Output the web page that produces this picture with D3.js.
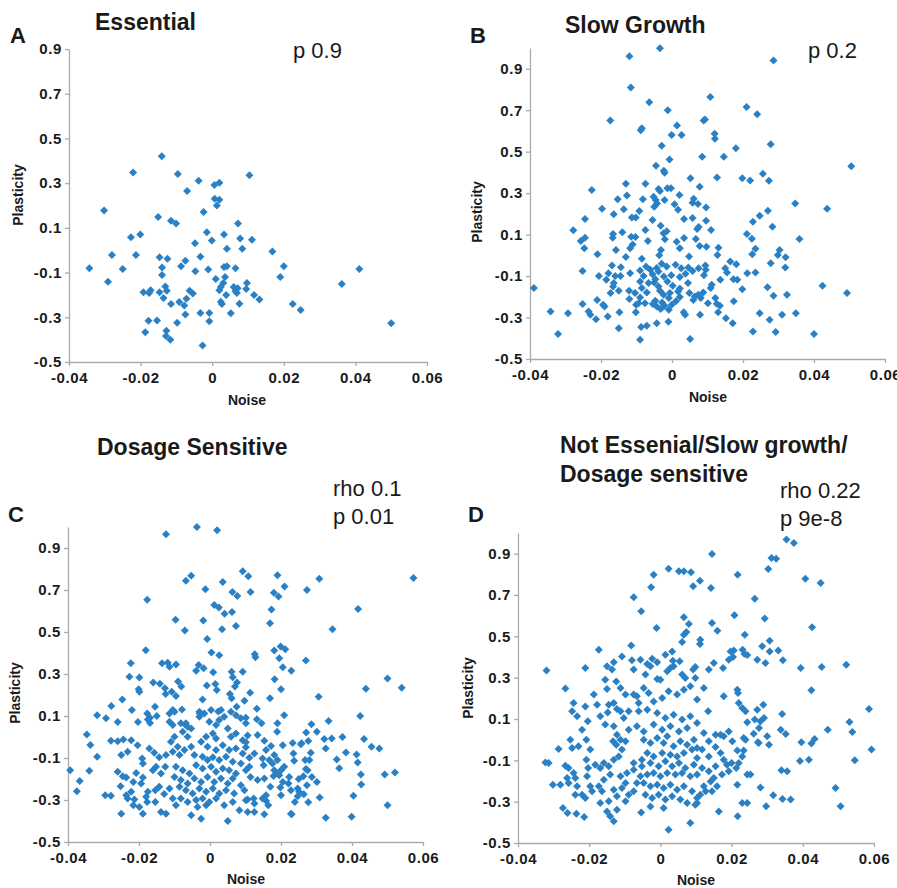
<!DOCTYPE html>
<html>
<head>
<meta charset="utf-8">
<script src="https://cdn.jsdelivr.net/npm/d3@7/dist/d3.min.js"></script>
<style>
body { margin: 0; background: #fff; }
text { font-family: "Liberation Sans", Arial, sans-serif; }
</style>
</head>
<body>
<svg id="chart" width="897" height="888"></svg>
<script>
/* ------------------------- Data ------------------------- */
var xTicks = [-0.04, -0.02, 0, 0.02, 0.04, 0.06];
var yTicks = [-0.5, -0.3, -0.1, 0.1, 0.3, 0.5, 0.7, 0.9];

/* [noise, plasticity] */
var essentialPoints = [
[-0.0141,0.42],[-0.0221,0.348],[-0.0096,0.341],[0.0104,0.335],[-0.0038,0.311],[0.0006,0.292],[0.002,0.302],[-0.007,0.265],
[0.0007,0.23],[0.002,0.226],[0.0013,0.2],[-0.0024,0.171],[-0.0302,0.178],[-0.0151,0.149],[-0.0115,0.132],[-0.0101,0.119],
[0.0072,0.12],[-0.0015,0.08],[-0.0227,0.058],[-0.0201,0.07],[0.0033,0.07],[0.0078,0.052],[0.0111,0.047],[-0.0001,0.044],
[-0.0048,0.031],[0.0041,0.007],[0.0084,0.007],[0.0168,-0.006],[-0.028,-0.021],[-0.0213,-0.021],[-0.0147,-0.032],[-0.0125,-0.038],
[-0.0033,-0.029],[-0.0075,-0.047],[-0.0343,-0.081],[-0.025,-0.084],[-0.014,-0.077],[-0.0087,-0.072],[-0.0047,-0.094],[-0.0011,-0.086],
[0.0033,-0.075],[0.0041,-0.072],[0.0065,-0.081],[0.02,-0.072],[0.0411,-0.084],[-0.014,-0.111],[0.001,-0.129],[0.0036,-0.12],
[0.019,-0.12],[-0.0291,-0.141],[0.0097,-0.147],[0.0031,-0.147],[-0.0131,-0.162],[0.0024,-0.165],[0.006,-0.165],[0.0071,-0.17],
[0.0362,-0.151],[-0.0127,-0.181],[-0.0172,-0.179],[-0.0192,-0.188],[-0.0176,-0.191],[-0.0147,-0.188],[-0.0063,-0.181],[-0.0054,-0.194],
[0.002,-0.179],[0.0065,-0.184],[0.0069,-0.191],[0.0095,-0.174],[0.0039,-0.2],[0.0117,-0.2],[0.0132,-0.22],[-0.0072,-0.217],
[-0.0136,-0.214],[-0.0092,-0.232],[-0.0115,-0.241],[-0.0078,-0.247],[0.0024,-0.23],[0.0027,-0.241],[0.0076,-0.239],[0.0225,-0.241],
[0.0247,-0.267],[-0.0075,-0.288],[-0.0033,-0.281],[-0.0008,-0.281],[0.0052,-0.282],[-0.0178,-0.315],[-0.0154,-0.314],[-0.0098,-0.324],
[-0.0008,-0.318],[0.05,-0.327],[-0.0187,-0.367],[-0.0128,-0.36],[-0.0129,-0.384],[-0.0117,-0.4],[-0.0027,-0.426]
];

var slowGrowthPoints = [
[-0.0034,0.999],[-0.012,0.96],[0.0286,0.94],[-0.0116,0.81],[-0.0064,0.738],[-0.0012,0.70],[0.0108,0.764],[0.021,0.715],
[0.024,0.68],[-0.0174,0.65],[0.0089,0.65],[0.0093,0.655],[-0.0085,0.613],[-0.0088,0.603],[0.0014,0.626],[0.0027,0.58],
[-0.0001,0.58],[0.012,0.587],[0.0121,0.562],[-0.0029,0.528],[0.0278,0.536],[0.018,0.517],[0.0146,0.475],[0.0085,0.475],
[-0.0007,0.462],[-0.0045,0.432],[0.0505,0.43],[-0.0023,0.408],[-0.0021,0.398],[0.0052,0.372],[0.0127,0.376],[0.0198,0.372],
[0.022,0.361],[0.0256,0.393],[0.0273,0.36],[-0.013,0.345],[-0.0075,0.345],[0.0078,0.331],[-0.0013,0.324],[-0.0003,0.323],
[-0.0038,0.32],[-0.0034,0.31],[-0.0226,0.315],[-0.0127,0.289],[0.0021,0.291],[-0.0052,0.283],[-0.0046,0.267],[-0.0021,0.267],
[-0.0153,0.271],[-0.0082,0.27],[0.0061,0.273],[0.0058,0.254],[0.0007,0.246],[0.0073,0.247],[-0.0042,0.25],[0.0347,0.25],
[-0.0197,0.225],[-0.0136,0.222],[-0.005,0.234],[0.0017,0.22],[0.0096,0.231],[0.027,0.215],[0.0437,0.225],[-0.0092,0.214],
[-0.0164,0.198],[0.0247,0.191],[-0.0245,0.175],[-0.0113,0.183],[-0.0102,0.182],[-0.0055,0.17],[0.0034,0.175],[0.0058,0.18],
[0.0228,0.162],[0.0096,0.167],[-0.0032,0.143],[0.0075,0.137],[-0.0075,0.122],[0.0283,0.138],[-0.0278,0.121],[0.011,0.122],
[0.0071,0.127],[-0.0015,0.116],[-0.0024,0.107],[-0.0166,0.103],[-0.014,0.111],[-0.0115,0.09],[-0.0103,0.089],[-0.0245,0.085],
[-0.0257,0.069],[0.0211,0.103],[-0.0167,0.085],[-0.0068,0.069],[0.0013,0.065],[-0.002,0.077],[0.0034,0.084],[0.0067,0.079],
[0.0359,0.079],[0.0225,0.08],[-0.0111,0.052],[-0.0118,0.034],[-0.0247,0.034],[-0.0158,0.026],[0.0097,0.042],[0.0078,0.045],
[-0.0031,0.026],[0.0022,0.034],[0.0235,0.032],[0.0131,0.036],[0.0303,0.026],[-0.021,0.005],[-0.013,-0.008],[-0.0085,-0.016],
[-0.0036,0.0],[0.0048,-0.006],[0.0226,0.005],[0.0298,0.002],[0.032,-0.009],[0.0128,0.002],[0.0164,-0.03],[0.0181,-0.043],
[0.0278,-0.038],[-0.0169,-0.049],[-0.0144,-0.057],[-0.0073,-0.054],[-0.0061,-0.07],[-0.0043,-0.061],[-0.0029,-0.041],[-0.0015,-0.054],
[0.001,-0.046],[0.0026,-0.062],[0.0046,-0.059],[0.0075,-0.062],[0.0094,-0.049],[0.015,-0.062],[0.0319,-0.059],[-0.0252,-0.075],
[-0.0206,-0.1],[-0.0179,-0.086],[-0.016,-0.1],[-0.0185,-0.118],[-0.0145,-0.1],[-0.0118,-0.086],[-0.009,-0.073],[-0.008,-0.1],
[-0.0055,-0.091],[-0.0038,-0.078],[-0.0047,-0.115],[-0.0023,-0.102],[-0.0002,-0.096],[0.0022,-0.105],[0.0038,-0.089],[0.0058,-0.076],
[0.009,-0.096],[0.0095,-0.07],[0.0155,-0.083],[0.0212,-0.086],[0.0235,-0.083],[0.0173,-0.115],[0.0184,-0.118],[-0.0164,-0.134],
[-0.0166,-0.15],[-0.009,-0.126],[-0.0066,-0.134],[-0.005,-0.131],[-0.0038,-0.15],[-0.0013,-0.126],[0.0002,-0.147],[0.0022,-0.16],
[0.0045,-0.134],[0.0112,-0.142],[0.0136,-0.118],[0.0109,-0.158],[0.0424,-0.147],[-0.0389,-0.158],[-0.0173,-0.182],[-0.015,-0.171],
[-0.0121,-0.171],[-0.0104,-0.182],[-0.0085,-0.158],[-0.0071,-0.179],[-0.0034,-0.171],[-0.0024,-0.19],[-0.0006,-0.182],[0.0017,-0.174],
[0.0049,-0.182],[0.0064,-0.198],[0.0074,-0.19],[0.0088,-0.179],[0.0198,-0.163],[0.0269,-0.154],[0.0493,-0.182],[0.0324,-0.19],
[0.0286,-0.195],[-0.012,-0.211],[-0.009,-0.203],[-0.0047,-0.219],[-0.0009,-0.206],[0.0022,-0.201],[0.006,-0.215],[0.0081,-0.206],
[0.0122,-0.206],[0.0126,-0.234],[-0.0252,-0.235],[-0.0211,-0.215],[-0.0194,-0.238],[-0.019,-0.247],[-0.0101,-0.238],[-0.0094,-0.231],
[-0.0076,-0.231],[-0.0054,-0.235],[-0.0043,-0.247],[-0.0028,-0.228],[-0.0021,-0.243],[-0.0001,-0.238],[0.0011,-0.222],[0.0101,-0.231],
[0.0174,-0.222],[0.0135,-0.243],[-0.0148,-0.274],[-0.0235,-0.271],[-0.023,-0.287],[-0.0102,-0.274],[-0.0032,-0.259],[-0.0009,-0.262],
[0.0033,-0.274],[0.0037,-0.287],[0.0079,-0.287],[0.013,-0.274],[0.0247,-0.279],[0.0349,-0.279],[0.031,-0.287],[-0.0342,-0.271],
[-0.0293,-0.279],[-0.0214,-0.308],[-0.0181,-0.295],[0.0152,-0.303],[0.0275,-0.311],[-0.001,-0.32],[-0.0043,-0.327],[0.0171,-0.327],
[-0.0087,-0.346],[-0.0071,-0.34],[-0.015,-0.352],[0.0228,-0.367],[0.0292,-0.37],[-0.0321,-0.38],[0.04,-0.38],[-0.009,-0.407],
[0.0051,-0.404]
];

var dosagePoints = [
[-0.0124,0.965],[-0.0037,1.0],[0.002,0.984],[0.0092,0.789],[0.0108,0.766],[-0.0053,0.768],[-0.0068,0.744],[0.0036,0.738],
[0.019,0.77],[0.0308,0.754],[0.0573,0.757],[0.021,0.717],[0.0273,0.70],[-0.0013,0.704],[0.0063,0.69],[0.0077,0.671],
[0.0114,0.69],[0.018,0.687],[0.0193,0.669],[-0.0177,0.653],[0.0012,0.628],[0.0025,0.617],[0.0041,0.587],[0.0062,0.595],
[0.0173,0.607],[0.0417,0.609],[-0.0097,0.558],[-0.0019,0.555],[0.0169,0.542],[0.0073,0.529],[0.0034,0.513],[-0.0071,0.507],
[0.0345,0.513],[-0.0008,0.467],[0.0181,0.412],[0.0199,0.431],[0.0212,0.418],[0.0004,0.402],[0.0026,0.389],[0.0126,0.394],
[0.0128,0.38],[-0.0181,0.413],[0.027,0.364],[0.0195,0.375],[-0.0223,0.351],[-0.0135,0.351],[-0.0119,0.354],[-0.0114,0.335],
[-0.0096,0.345],[-0.0039,0.316],[-0.0032,0.343],[-0.0018,0.327],[0.0009,0.308],[0.0061,0.311],[0.0092,0.311],[0.0205,0.332],
[0.0229,0.316],[0.05,0.279],[0.054,0.235],[0.0439,0.23],[0.0306,0.192],[0.0423,0.1],[0.0334,0.076],[0.0169,0.184],
[0.02,0.227],[0.0182,0.275],[-0.0227,0.287],[-0.0199,0.283],[-0.0201,0.227],[-0.0199,0.216],[-0.016,0.26],[-0.0141,0.253],
[-0.0127,0.232],[-0.0125,0.205],[-0.0108,0.216],[-0.009,0.264],[-0.0081,0.24],[-0.0096,0.195],[-0.0247,0.179],[-0.022,0.128],
[-0.0278,0.148],[-0.0318,0.103],[-0.0293,0.089],[-0.026,0.071],[-0.0203,0.071],[-0.0177,0.112],[-0.0169,0.092],[-0.0155,0.144],
[-0.015,0.1],[-0.0114,0.073],[-0.0105,0.128],[-0.0105,0.057],[-0.0079,0.131],[-0.007,0.06],[-0.0063,0.049],[-0.0029,0.113],
[-0.0021,0.179],[-0.0009,0.245],[0.0019,0.224],[0.0015,0.252],[0.0023,0.122],[0.0031,0.128],[0.0056,0.205],[0.0061,0.184],
[0.007,0.24],[0.0064,0.284],[0.0076,0.259],[0.0113,0.211],[0.0132,0.135],[0.0097,0.173],[0.0075,0.144],[0.0209,0.104],
[-0.0347,0.012],[-0.0337,-0.038],[-0.0279,-0.018],[-0.0318,-0.094],[-0.0394,-0.158],[-0.0367,-0.21],[-0.0375,-0.258],[-0.034,-0.161],
[0.0373,0.0],[0.0343,-0.007],[0.0322,-0.01],[0.0383,-0.074],[0.0357,-0.107],[0.0364,-0.149],[0.0413,-0.083],[0.0416,-0.121],
[0.0434,-0.01],[0.0455,-0.047],[0.0477,-0.055],[0.0425,-0.178],[0.0426,-0.226],[0.0492,-0.178],[0.0521,-0.169],[0.05,-0.325],
[0.0404,-0.28],[0.0399,-0.38],[0.0326,-0.384],[0.0309,-0.288],[0.0326,-0.055],[0.0286,0.061],[0.0301,0.025],[0.0271,0.022],
[0.0277,-0.019],[0.0258,-0.03],[0.0284,-0.075],[0.0235,-0.078],[0.0237,-0.113],[0.0268,-0.11],[0.028,-0.11],[0.0275,-0.158],
[0.027,-0.152],[0.0287,-0.19],[0.0301,-0.214],[0.0273,-0.23],[0.0277,-0.311],[0.0264,-0.273],[0.0251,-0.261],[0.0247,-0.282],
[0.0239,-0.309],[0.023,-0.368],[0.025,-0.2],[0.0263,-0.187],[0.0223,-0.19],[0.0221,-0.222],[0.0228,-0.253],[0.0247,-0.245],
[0.02,-0.277],[0.0198,-0.241],[0.0205,-0.214],[0.0181,-0.158],[0.02,-0.158],[0.0195,-0.182],[0.0209,-0.142],[0.019,-0.11],
[0.0176,-0.126],[0.0181,-0.086],[0.0167,-0.11],[0.0172,-0.043],[0.0205,-0.039],[0.0233,-0.028],[0.0256,-0.034],[0.0189,0.025],
[0.019,0.065],[0.0132,0.084],[0.0145,0.065],[0.0134,0.009],[0.0153,-0.018],[0.0158,-0.062],[0.0148,-0.102],[0.0151,-0.134],
[0.0125,-0.078],[0.0111,-0.099],[0.0111,-0.142],[0.0114,-0.19],[0.0134,-0.205],[0.0153,-0.198],[0.0179,-0.186],[0.0189,-0.174],
[0.017,-0.237],[0.0158,-0.277],[0.0148,-0.293],[0.0164,-0.325],[0.0158,-0.304],[0.0125,-0.317],[0.0123,-0.293],[0.0106,-0.298],
[0.0106,-0.357],[0.0125,-0.357],[0.0153,-0.368],[0.0228,-0.365],[0.0101,0.092],[0.0101,0.065],[0.0106,0.007],[0.0101,-0.025],
[0.0101,-0.049],[-0.0175,0.083],[-0.0169,0.067],[-0.026,-0.02],[-0.0244,-0.012],[-0.0222,-0.015],[-0.0204,-0.039],[-0.0232,-0.07],
[-0.025,-0.086],[-0.0191,-0.102],[-0.0189,-0.126],[-0.0171,-0.055],[-0.0157,-0.075],[-0.0143,-0.097],[-0.0124,-0.086],[-0.0152,-0.142],
[-0.0161,-0.158],[-0.0138,-0.174],[-0.0126,-0.142],[-0.026,-0.166],[-0.0246,-0.187],[-0.0236,-0.193],[-0.0208,-0.171],[-0.0189,-0.193],
[-0.0194,-0.221],[-0.0216,-0.214],[-0.0252,-0.234],[-0.0222,-0.261],[-0.0236,-0.277],[-0.0232,-0.293],[-0.0213,-0.298],[-0.0216,-0.325],
[-0.0199,-0.333],[-0.018,-0.285],[-0.0175,-0.261],[-0.0177,-0.309],[-0.0154,-0.309],[-0.0154,-0.253],[-0.0143,-0.237],[-0.0129,-0.272],
[-0.0114,-0.245],[-0.0105,-0.293],[-0.0096,-0.325],[-0.0124,-0.365],[-0.0138,-0.357],[-0.0189,-0.365],[-0.025,-0.365],[-0.0295,-0.277],
[-0.0279,-0.28],[-0.0114,0.112],[-0.01,0.12],[-0.0082,0.065],[-0.0068,0.065],[-0.0077,0.025],[-0.0063,0.001],[-0.0053,0.041],
[-0.01,0.001],[-0.011,-0.023],[-0.0091,-0.047],[-0.0105,-0.07],[-0.0086,-0.086],[-0.0072,-0.062],[-0.0053,-0.047],[-0.0044,-0.086],
[-0.003,0.097],[-0.003,0.12],[-0.0016,0.112],[-0.0002,0.073],[0.0003,0.128],[0.0017,0.057],[0.0026,0.081],[0.004,0.097],
[0.0059,0.12],[0.0073,0.104],[0.0087,0.089],[0.005,0.041],[0.0073,0.017],[0.0059,0.001],[0.0092,-0.015],[0.0008,0.017],
[0.0017,-0.007],[-0.0011,0.001],[-0.0025,-0.023],[-0.0007,-0.047],[0.0017,-0.062],[0.0036,-0.039],[0.0054,-0.062],[0.0073,-0.055],
[0.0092,-0.078],[-0.0021,-0.094],[-0.0007,-0.11],[0.0008,-0.097],[0.0026,-0.11],[0.0045,-0.094],[0.0064,-0.118],[0.0087,-0.126],
[-0.0039,-0.134],[-0.0021,-0.15],[0.0003,-0.142],[0.0017,-0.166],[0.0036,-0.15],[0.0054,-0.158],[0.0073,-0.174],[0.0101,-0.158],
[-0.0096,-0.142],[-0.0077,-0.158],[-0.0058,-0.174],[-0.01,-0.19],[-0.0082,-0.205],[-0.0063,-0.221],[-0.0044,-0.198],[-0.0025,-0.214],
[-0.0007,-0.19],[0.0012,-0.214],[0.0031,-0.198],[0.005,-0.221],[0.0064,-0.198],[0.0087,-0.23],[-0.0086,-0.237],[-0.0068,-0.253],
[-0.0049,-0.269],[-0.003,-0.245],[-0.0011,-0.261],[0.0008,-0.245],[0.0026,-0.269],[0.0045,-0.253],[0.0068,-0.269],[0.0097,-0.253],
[-0.0039,-0.3],[-0.0021,-0.293],[-0.0002,-0.309],[0.0017,-0.293],[-0.0035,-0.333],[-0.0011,-0.325],[-0.0053,-0.373],[-0.0025,-0.389],
[0.005,-0.4],[0.004,-0.325],[0.0083,-0.349],[0.0101,-0.301],[0.0064,-0.309],[-0.0082,-0.293],[-0.0063,-0.309]
];

var otherPoints = [
[0.0354,0.968],[0.0375,0.952],[0.0145,0.898],[0.0312,0.879],[0.0325,0.876],[0.0023,0.827],[0.0052,0.815],[0.0066,0.815],
[0.0086,0.81],[-0.0019,0.798],[0.0217,0.798],[0.0303,0.826],[0.0407,0.779],[0.045,0.758],[0.0111,0.769],[-0.0026,0.737],
[0.0092,0.742],[0.0142,0.734],[-0.0075,0.689],[0.0265,0.682],[-0.0054,0.621],[0.0208,0.602],[0.0293,0.586],[0.0066,0.592],
[0.008,0.56],[0.0145,0.565],[-0.0011,0.54],[0.0426,0.544],[0.016,0.527],[0.0073,0.521],[0.0066,0.508],[0.0237,0.508],
[0.0061,0.473],[0.0112,0.484],[0.0111,0.463],[-0.0173,0.435],[-0.0082,0.456],[0.0206,0.431],[0.0231,0.435],[0.0197,0.427],
[0.0286,0.452],[0.0307,0.427],[0.0331,0.431],[0.0033,0.427],[0.0307,0.479],[0.0014,0.411],[0.0236,0.414],[-0.032,0.335],
[-0.0267,0.248],[-0.0211,0.347],[-0.015,0.355],[-0.0131,0.374],[-0.0108,0.403],[-0.008,0.384],[-0.0056,0.387],[-0.0037,0.366],
[-0.0023,0.392],[-0.0009,0.294],[0.0028,0.347],[0.0035,0.382],[0.0054,0.379],[0.007,0.298],[0.0098,0.352],[0.0136,0.339],
[0.015,0.371],[0.0176,0.347],[0.0192,0.387],[0.0204,0.40],[0.0244,0.41],[0.0272,0.387],[0.0295,0.371],[0.0344,0.384],
[0.0394,0.347],[0.0453,0.352],[0.0522,0.363],[0.0424,0.239],[0.0586,0.148],[0.0531,0.085],[0.0539,0.037],[0.047,0.048],
[0.0593,-0.048],[0.0546,-0.1],[0.0396,-0.013],[0.0424,-0.019],[0.0433,0.003],[0.0392,-0.103],[0.0417,-0.097],[0.0342,0.124],
[0.0338,0.048],[0.0352,0.027],[0.03,0.016],[0.0305,-0.024],[0.034,-0.148],[0.0356,-0.153],[0.0343,-0.287],[0.0366,-0.29],
[0.0317,-0.269],[0.0297,-0.322],[0.0281,-0.232],[0.0492,-0.234],[0.0506,-0.322],[0.0274,-0.013],[0.0291,0.105],[0.0281,0.089],
[0.0289,0.169],[0.0272,0.145],[0.0265,0.097],[0.0277,0.056],[0.0084,-0.403],[0.0023,-0.436],[0.0217,-0.371],[0.0164,-0.347],
[0.023,-0.306],[0.0216,-0.218],[0.0145,-0.25],[-0.0124,0.282],[-0.0136,0.339],[-0.0187,0.218],[-0.0244,0.177],[-0.0211,0.161],
[-0.0248,0.137],[-0.0234,0.113],[-0.0178,0.169],[-0.015,0.245],[-0.0145,0.169],[-0.0148,0.132],[-0.0122,0.148],[-0.0089,0.137],
[-0.0061,0.137],[-0.0098,0.218],[-0.0075,0.218],[-0.0066,0.21],[-0.0204,0.089],[-0.022,0.048],[-0.0169,0.113],[-0.0155,0.073],
[-0.0131,0.065],[-0.0122,0.024],[-0.0133,-0.008],[-0.0253,0.0],[-0.0248,-0.04],[-0.023,-0.032],[-0.0286,-0.045],[-0.0208,0.0],
[-0.0197,-0.048],[-0.0323,-0.11],[-0.0314,-0.113],[-0.0267,-0.126],[-0.0258,-0.137],[-0.0244,-0.161],[-0.0262,-0.185],[-0.0239,-0.185],
[-0.0208,-0.097],[-0.0203,-0.137],[-0.0206,-0.177],[-0.0183,-0.121],[-0.0169,-0.137],[-0.0159,-0.113],[-0.0145,-0.129],[-0.0131,-0.097],
[-0.0117,-0.081],[-0.0124,-0.024],[-0.0108,-0.048],[-0.0098,-0.008],[-0.0112,0.0],[-0.0302,-0.218],[-0.0281,-0.218],[-0.0258,-0.21],
[-0.0234,-0.226],[-0.0239,-0.266],[-0.022,-0.266],[-0.0211,-0.282],[-0.0197,-0.226],[-0.0192,-0.25],[-0.0274,-0.331],[-0.0261,-0.355],
[-0.0236,-0.358],[-0.0214,-0.374],[-0.0173,-0.226],[-0.0164,-0.25],[-0.0169,-0.306],[-0.0145,-0.298],[-0.015,-0.347],[-0.0141,-0.371],
[-0.0131,-0.395],[-0.0122,-0.339],[-0.0122,-0.274],[-0.0131,-0.242],[-0.0108,-0.234],[-0.0098,-0.21],[-0.0112,-0.177],[-0.0094,-0.161],
[-0.0141,-0.169],[-0.0159,-0.194],[-0.0098,-0.298],[-0.0089,-0.266],[-0.0075,-0.25],[-0.0066,-0.21],[-0.0056,-0.177],[-0.0075,-0.145],
[-0.0052,-0.129],[-0.0075,-0.113],[-0.0052,-0.097],[-0.0047,0.0],[-0.0028,-0.016],[-0.0009,0.008],[0.0009,-0.016],[0.0019,0.016],
[0.0037,-0.032],[0.0056,-0.008],[0.0075,-0.024],[0.0094,0.0],[0.0089,-0.048],[0.0066,-0.065],[0.0047,-0.081],[0.0028,-0.073],
[0.0005,-0.065],[-0.0019,-0.081],[-0.0037,-0.065],[-0.0028,-0.113],[-0.0005,-0.129],[0.0014,-0.105],[0.0033,-0.129],[0.0052,-0.113],
[0.007,-0.137],[0.0094,-0.121],[0.0103,-0.169],[0.0084,-0.177],[0.0061,-0.161],[0.0042,-0.169],[0.0019,-0.161],[0.0,-0.177],
[-0.0019,-0.161],[-0.0037,-0.169],[-0.0047,-0.21],[-0.0028,-0.226],[-0.0009,-0.218],[0.0009,-0.234],[0.0028,-0.218],[0.0047,-0.242],
[0.0066,-0.226],[0.0089,-0.25],[-0.0042,-0.266],[-0.0023,-0.282],[-0.0005,-0.266],[0.0014,-0.29],[0.0033,-0.274],[0.0056,-0.29],
[0.0075,-0.306],[0.0098,-0.315],[0.0103,-0.282],[-0.0028,-0.323],[0.0009,-0.331],[-0.0054,-0.352],[-0.0075,0.339],[-0.0042,0.315],
[-0.0028,0.355],[0.0,0.29],[0.0019,0.331],[0.0037,0.355],[0.0061,0.315],[0.0092,0.339],[0.0098,0.298],[0.0084,0.258],
[0.0066,0.242],[0.0047,0.218],[0.0023,0.234],[0.0005,0.202],[-0.0019,0.185],[-0.0033,0.226],[-0.0047,0.25],[-0.0061,0.177],
[-0.0037,0.145],[-0.0009,0.129],[0.0014,0.105],[0.0037,0.121],[0.0061,0.097],[0.0084,0.113],[0.0103,0.081],[-0.0019,0.073],
[0.0005,0.048],[0.0028,0.065],[0.0052,0.04],[0.0075,0.056],[-0.0047,0.04],[-0.0066,0.065],[-0.0103,0.105],[-0.0112,0.137],
[-0.0089,0.048],[-0.0155,0.29],[-0.0112,0.25],[-0.0131,0.177],[-0.0009,0.374],[0.0216,0.242],[0.0218,0.226],[0.022,0.177],
[0.023,0.153],[0.0239,0.137],[0.0244,0.084],[0.0262,0.029],[0.0276,-0.016],[0.0234,0.008],[0.0239,0.0],[0.0216,-0.052],
[0.0234,-0.052],[0.023,-0.081],[0.0202,-0.008],[0.0192,0.04],[0.0178,0.016],[0.0169,0.024],[0.0155,0.024],[0.02,-0.113],
[0.022,-0.113],[0.0213,-0.137],[0.0244,-0.169],[0.0253,-0.169],[0.0244,-0.306],[0.0122,0.25],[0.0178,0.21],[0.0134,0.137],
[0.0103,0.194],[0.0122,0.032],[0.0136,-0.008],[0.0155,-0.035],[0.0169,-0.065],[0.0136,-0.081],[0.0117,-0.048],[0.0103,-0.04],
[0.0103,-0.089],[0.0117,-0.137],[0.0136,-0.153],[0.0155,-0.129],[0.0178,-0.097],[0.0187,-0.121],[0.0192,-0.153],[0.0173,-0.169],
[0.015,-0.185],[0.0159,-0.226],[0.0141,-0.202],[0.0122,-0.226],[0.0112,-0.266],[0.0127,-0.25],[0.0103,-0.306]
];

/* ------------------------- Panels ------------------------- */
var panels = [
    { letter: "A", title: ["Essential"], stats: ["p 0.9"], points: essentialPoints,
      left: 69, right: 427, top: 49, bottom: 362, yMax: 0.9,
      letterPos: [10, 43], titlePos: [95, 30, 28], statsPos: [293, 58, 28],
      yLabelPos: [23, 195], xLabelPos: [247, 405] },
    { letter: "B", title: ["Slow Growth"], stats: ["p 0.2"], points: slowGrowthPoints,
      left: 530, right: 885, top: 48, bottom: 359, yMax: 1.0,
      letterPos: [470, 43], titlePos: [565, 33, 28], statsPos: [808, 58, 28],
      yLabelPos: [482, 212], xLabelPos: [708, 402] },
    { letter: "C", title: ["Dosage Sensitive"], stats: ["rho 0.1", "p 0.01"], points: dosagePoints,
      left: 68, right: 423, top: 527, bottom: 842, yMax: 1.0,
      letterPos: [8, 522], titlePos: [97, 455, 28], statsPos: [333, 496, 28],
      yLabelPos: [20, 693], xLabelPos: [246, 884] },
    { letter: "D", title: ["Not Essenial/Slow growth/", "Dosage sensitive"], stats: ["rho 0.22", "p 9e-8"], points: otherPoints,
      left: 518, right: 874, top: 533, bottom: 843, yMax: 1.0,
      letterPos: [468, 522], titlePos: [560, 453, 29], statsPos: [780, 498, 28],
      yLabelPos: [473, 688], xLabelPos: [696, 885] }
];

var svg = d3.select("#chart");
var axisColor = "#ababab",
    dotColor = "#2a80c4",
    textColor = "#1a1a1a",
    r = 4;

var diamond = "M0," + (-r) + "L" + r + ",0L0," + r + "L" + (-r) + ",0Z";

function tickText(d) { return d === 0 ? "0" : String(d); }

/* Multi-line text block */
function addLines(g, lines, pos, attrs) {
    lines.forEach(function(line, i) {
        var t = g.append("text")
            .attr("x", pos[0])
            .attr("y", pos[1] + i * pos[2])
            .attr("fill", textColor)
            .text(line);
        for (var key in attrs) t.attr(key, attrs[key]);
    });
}

panels.forEach(function(p) {
    var x = d3.scaleLinear().domain([-0.04, 0.06]).range([p.left, p.right]);
    var y = d3.scaleLinear().domain([-0.5, p.yMax]).range([p.bottom, p.top]);
    var g = svg.append("g");

    /* Axes */
    var xa = g.append("g")
        .attr("transform", "translate(0," + p.bottom + ")")
        .call(d3.axisBottom(x).tickValues(xTicks).tickFormat(tickText)
            .tickSize(4).tickSizeOuter(0).tickPadding(6));
    var ya = g.append("g")
        .attr("transform", "translate(" + p.left + ",0)")
        .call(d3.axisLeft(y).tickValues(yTicks).tickFormat(tickText)
            .tickSize(4).tickSizeOuter(0).tickPadding(3));

    [xa, ya].forEach(function(a) {
        a.attr("font-family", null).attr("font-size", null);
        a.select(".domain").attr("stroke", axisColor).attr("stroke-width", 1.3);
        a.selectAll(".tick line").attr("stroke", axisColor).attr("stroke-width", 1.3);
        a.selectAll(".tick text")
            .attr("fill", textColor)
            .attr("font-size", 15)
            .attr("font-weight", "bold")
            .attr("letter-spacing", "0.6px");
    });

    /* Diamonds */
    g.append("g").selectAll("path")
        .data(p.points)
        .enter().append("path")
        .attr("d", diamond)
        .attr("transform", function(d) { return "translate(" + x(d[0]) + "," + y(d[1]) + ")"; })
        .attr("fill", dotColor);

    /* Labels */
    g.append("text")
        .attr("x", p.letterPos[0]).attr("y", p.letterPos[1])
        .attr("font-size", 22).attr("font-weight", "bold")
        .attr("fill", textColor)
        .text(p.letter);

    addLines(g, p.title, p.titlePos, { "font-size": 23, "font-weight": "bold" });
    addLines(g, p.stats, p.statsPos, { "font-size": 22 });

    g.append("text")
        .attr("transform", "translate(" + p.yLabelPos[0] + "," + p.yLabelPos[1] + ")rotate(-90)")
        .attr("text-anchor", "middle")
        .attr("font-size", 14).attr("font-weight", "bold")
        .attr("fill", textColor)
        .text("Plasticity");

    g.append("text")
        .attr("x", p.xLabelPos[0]).attr("y", p.xLabelPos[1])
        .attr("text-anchor", "middle")
        .attr("font-size", 14).attr("font-weight", "bold")
        .attr("fill", textColor)
        .text("Noise");
});
</script>
</body>
</html>
